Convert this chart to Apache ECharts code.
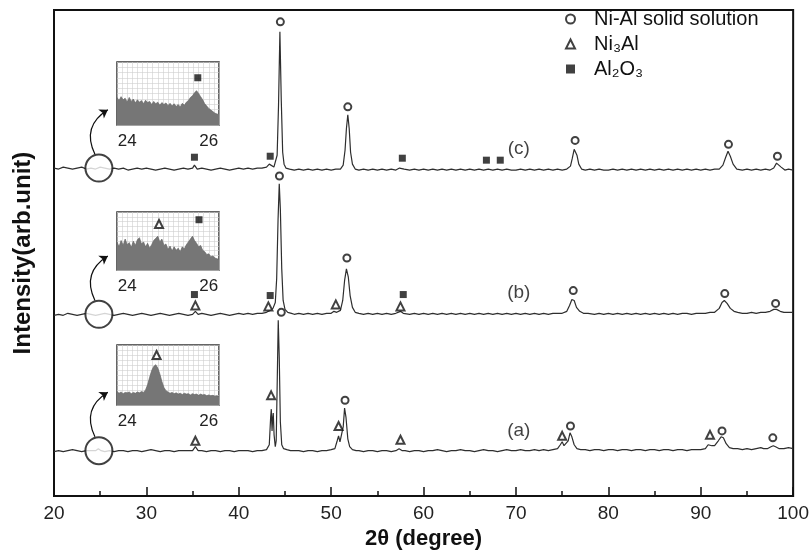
<!DOCTYPE html>
<html>
<head>
<meta charset="utf-8">
<script src="https://cdn.jsdelivr.net/npm/echarts@6/dist/echarts.min.js"></script>
<style>html,body{margin:0;padding:0;background:#fff}#c{width:812px;height:555px}</style>
</head>
<body>
<div id="c"></div>
<script>
// ---------- main XRD traces: [2theta, offset intensity] ----------
const traceC = [[20,332],[20.5,331],[21,333],[21.5,332],[22,331],[22.5,332],[23,333],[23.5,331],[24,332],[24.5,331],[25,333],[25.5,332],[26,331],[26.5,332],[27,331],[27.5,332],[28,330],[28.5,331],[29,332],[29.5,331],[30,332],[30.5,331],[31,330],[31.5,331],[32,332],[32.5,331],[33,330],[33.5,331],[34,332],[34.5,331],[35,332],[35.2,335],[35.5,331],[36,332],[36.5,331],[37,330],[37.5,331],[38,332],[38.5,331],[39,330],[39.5,331],[40,332],[40.5,331],[41,332],[41.5,331],[42,332],[42.5,332],[43,333],[43.3,336],[43.5,335],[43.8,333],[44.0,335],[44.15,345],[44.3,395],[44.45,470],[44.6,400],[44.75,348],[44.9,336],[45.1,332],[45.5,331],[46,330],[46.5,331],[47,330],[47.5,331],[48,330],[48.5,331],[49,330],[49.5,331],[50,330],[50.5,331],[51,331],[51.3,335],[51.5,350],[51.65,372],[51.8,386],[51.95,372],[52.1,348],[52.3,336],[52.6,331],[53,330],[53.5,331],[54,330],[54.5,331],[55,330],[55.5,331],[56,330],[56.5,331],[57,330],[57.4,332],[57.6,334],[57.9,331],[58.5,330],[59,331],[59.5,330],[60,331],[60.5,330],[61,331],[61.5,330],[62,331],[62.5,330],[63,331],[63.5,330],[64,331],[64.5,330],[65,331],[65.5,330],[66,331],[66.5,330],[67,331],[67.5,330],[68,331],[68.5,330],[69,331],[69.5,330],[70,330],[70.5,331],[71,330],[71.5,331],[72,330],[72.5,331],[73,330],[73.5,331],[74,330],[74.5,331],[75,330],[75.5,331],[75.9,334],[76.1,342],[76.3,351],[76.45,352],[76.6,345],[76.8,336],[77.1,331],[77.5,330],[78,331],[78.5,330],[79,331],[79.5,330],[80,330],[80.5,331],[81,330],[81.5,331],[82,330],[82.5,331],[83,330],[83.5,331],[84,330],[84.5,331],[85,330],[85.5,331],[86,330],[86.5,331],[87,330],[87.5,331],[88,330],[88.5,331],[89,330],[89.5,331],[90,330],[90.5,331],[91,330],[91.5,331],[92,331],[92.4,335],[92.7,343],[92.95,349],[93.2,344],[93.5,336],[93.9,331],[94.5,330],[95,331],[95.5,330],[96,331],[96.5,330],[97,331],[97.5,330],[97.9,332],[98.2,337],[98.4,338],[98.7,333],[99.1,330],[99.5,331],[100,330]];

const traceB = [[20,183],[20.5,184],[21,183],[21.5,185],[22,184],[22.5,183],[23,184],[23.5,185],[24,184],[24.5,183],[25,184],[25.5,185],[26,184],[26.5,183],[27,184],[27.5,185],[28,184],[28.5,183],[29,184],[29.5,185],[30,184],[30.5,183],[31,184],[31.5,185],[32,184],[32.5,183],[33,184],[33.5,185],[34,184],[34.5,183],[35,184],[35.3,187],[35.6,184],[36,185],[36.5,184],[37,183],[37.5,184],[38,185],[38.5,184],[39,183],[39.5,184],[40,185],[40.5,184],[41,185],[41.5,184],[42,185],[42.5,185],[43,186],[43.4,188],[43.7,190],[43.95,196],[44.1,220],[44.25,280],[44.38,316],[44.5,290],[44.65,230],[44.8,198],[45.0,189],[45.3,186],[45.7,185],[46,184],[46.5,185],[47,184],[47.5,185],[48,184],[48.5,185],[49,184],[49.5,185],[50,185],[50.3,187],[50.6,186],[51,188],[51.25,198],[51.45,218],[51.65,230],[51.85,222],[52.05,203],[52.3,191],[52.6,186],[53,185],[53.5,184],[54,185],[54.5,184],[55,185],[55.5,184],[56,185],[56.5,184],[57,185],[57.5,187],[57.8,185],[58.5,184],[59,185],[59.5,184],[60,185],[60.5,184],[61,185],[61.5,184],[62,185],[62.5,184],[63,185],[63.5,184],[64,185],[64.5,184],[65,185],[65.5,184],[66,185],[66.5,184],[67,185],[67.5,184],[68,185],[68.5,184],[69,185],[69.5,184],[70,185],[70.5,184],[71,185],[71.5,184],[72,185],[72.5,184],[73,185],[73.5,184],[74,185],[74.5,185],[75,185],[75.5,187],[75.8,193],[76.05,199],[76.3,198],[76.55,191],[76.9,187],[77.3,185],[77.8,185],[78.5,184],[79,185],[79.5,184],[80,185],[80.5,184],[81,185],[81.5,184],[82,185],[82.5,184],[83,185],[83.5,184],[84,185],[84.5,184],[85,185],[85.5,184],[86,185],[86.5,184],[87,185],[87.5,184],[88,185],[88.5,185],[89,184],[89.5,185],[90,185],[90.5,185],[91,186],[91.5,186],[92,190],[92.3,196],[92.55,198],[92.85,195],[93.2,190],[93.6,187],[94,186],[94.5,185],[95,185],[95.5,186],[96,185],[96.5,186],[97,186],[97.5,187],[97.9,189],[98.2,189],[98.6,187],[99,186],[99.5,186],[100,186]];

const traceA = [[20,45],[20.5,46],[21,45],[21.5,46],[22,47],[22.5,46],[23,45],[23.5,46],[24,46],[24.5,46],[24.8,48],[25.1,46],[25.5,45],[26,46],[26.5,45],[27,46],[27.5,46],[28,45],[28.5,46],[29,46],[29.5,45],[30,46],[30.5,47],[31,46],[31.5,45],[32,46],[32.5,46],[33,45],[33.5,46],[34,46],[34.5,46],[35,46],[35.3,50],[35.6,46],[36,46],[36.5,45],[37,46],[37.5,46],[38,45],[38.5,46],[39,46],[39.5,45],[40,46],[40.5,46],[41,46],[41.5,45],[42,46],[42.5,46],[43,47],[43.3,52],[43.45,80],[43.52,88],[43.6,66],[43.66,78],[43.73,84],[43.82,62],[43.95,50],[44.05,56],[44.15,110],[44.27,178],[44.38,140],[44.5,75],[44.65,52],[44.85,48],[45.2,47],[45.6,46],[46,46],[46.5,46],[47,45],[47.5,46],[48,46],[48.5,45],[49,46],[49.5,46],[50,47],[50.4,48],[50.65,56],[50.8,61],[50.95,55],[51.1,54],[51.3,70],[51.45,89],[51.6,80],[51.8,58],[52.0,50],[52.3,47],[52.7,46],[53,46],[53.5,45],[54,46],[54.5,46],[55,45],[55.5,46],[56,46],[56.5,45],[57,46],[57.35,48],[57.5,49],[57.7,46],[58,46],[58.5,45],[59,46],[59.5,46],[60,45],[60.5,46],[61,46],[61.5,47],[62,46],[62.5,45],[63,46],[63.5,46],[64,47],[64.5,46],[65,46],[65.5,45],[66,46],[66.5,47],[67,46],[67.5,46],[68,45],[68.5,46],[69,47],[69.5,46],[70,46],[70.5,47],[71,46],[71.5,46],[72,47],[72.5,46],[73,47],[73.5,46],[74,47],[74.5,48],[74.8,52],[75.0,55],[75.2,51],[75.4,50],[75.65,56],[75.85,64],[76.05,60],[76.3,52],[76.6,48],[77,47],[77.5,47],[78,46],[78.5,47],[79,47],[79.5,46],[80,47],[80.5,47],[81,46],[81.5,47],[82,47],[82.5,46],[83,47],[83.5,47],[84,46],[84.5,47],[85,47],[85.5,46],[86,47],[86.5,47],[87,46],[87.5,47],[88,47],[88.5,46],[89,47],[89.5,47],[90,47],[90.5,48],[90.8,52],[91.0,54],[91.2,51],[91.5,51],[91.9,56],[92.2,60],[92.45,59],[92.75,53],[93.1,49],[93.5,48],[94,48],[94.5,47],[95,48],[95.5,47],[96,48],[96.5,49],[96.8,48],[97.2,48],[97.6,50],[97.85,51],[98.1,50],[98.5,48],[99,48],[99.5,49],[100,48]];

// ---------- phase markers ----------
const phaseNames = ['Ni-Al solid solution', 'Ni₃Al', 'Al₂O₃'];
const niAlSolid = [[44.5,480],[51.8,394],[76.4,360],[93.0,356],[98.3,344],[44.4,324],[51.7,241],[76.2,208],[92.6,205],[98.1,195],[44.6,186],[51.5,97],[75.9,71],[92.3,66],[97.8,59]];
const ni3Al = [[35.3,193],[43.2,192],[50.5,194],[57.5,192],[35.3,56],[43.5,102],[50.8,71],[57.5,57],[75.0,61],[91.0,62]];
const al2o3 = [[35.2,343],[43.4,344],[57.7,342],[66.8,340],[68.3,340],[35.2,204],[43.4,203],[57.8,204]];

// ---------- trace labels, zoom circles, arrows ----------
const traceLabelText = ['(c)','(b)','(a)'];
const traceLabelPos = [[70.3,352],[70.3,206],[70.3,66]];
const zoomCircles = [[24.86,332],[24.86,184],[24.86,46]];
const arrowPaths = [[[24.43,346],[25.83,391]],[[24.43,198],[25.83,243]],[[24.43,60],[25.83,105]]];

// ---------- insets (2theta 23.75 - 26.25) ----------
const insetTheta = [23.75,23.8,23.85,23.9,23.95,24.0,24.05,24.1,24.15,24.2,24.25,24.3,24.35,24.4,24.45,24.5,24.55,24.6,24.65,24.7,24.75,24.8,24.85,24.9,24.95,25.0,25.05,25.1,25.15,25.2,25.25,25.3,25.35,25.4,25.45,25.5,25.55,25.6,25.65,25.7,25.75,25.8,25.85,25.9,25.95,26.0,26.05,26.1,26.15,26.2,26.25];
const insetC = [70,62,72,64,68,58,70,60,66,56,64,58,62,54,63,57,60,52,60,54,58,50,57,52,56,49,55,48,54,47,52,46,55,50,58,62,70,74,82,87,80,72,64,54,48,42,38,34,30,28,26];
const insetB = [80,66,84,70,88,72,78,64,82,70,86,92,74,80,66,76,62,72,84,90,96,80,88,70,74,58,68,54,66,56,62,52,66,60,72,80,88,96,84,76,66,70,56,52,44,46,38,40,34,32,30];
const insetA = [32,28,31,27,30,29,31,27,30,28,31,29,32,30,36,48,66,82,92,96,88,74,56,42,34,31,28,30,27,29,26,28,25,28,26,27,24,27,25,26,23,26,24,25,22,24,22,23,21,22,20];
const insetTickLabels = [24, 26];
const insetCMarkSquare = [[25.73,120]];
const insetBMarkTriangle = [[24.78,131]];
const insetBMarkSquare = [[25.76,143]];
const insetAMarkTriangle = [[24.72,119]];

const FONT = "'Liberation Sans', Arial, sans-serif";
const INK = '#111';

function pairs(xs, ys){ return xs.map((x,i)=>[x, ys[i]]); }

const chart = echarts.init(document.getElementById('c'), null, {renderer:'canvas'});

const insetGrids = [
  {left:117, top:62, width:102, height:63},
  {left:117, top:212, width:102, height:58},
  {left:117, top:345, width:102, height:60}
];
const insetYMax = [160, 165, 143];

const xAxes = [{
  gridIndex:0, type:'value', min:20, max:100, interval:10,
  axisLine:{show:true, lineStyle:{color:INK, width:2}},
  axisTick:{show:true, inside:true, length:9, lineStyle:{color:INK, width:1.5}},
  minorTick:{show:true, splitNumber:2, length:5, lineStyle:{color:INK, width:1.5}},
  axisLabel:{fontSize:19, color:'#222', margin:8, fontFamily:FONT},
  splitLine:{show:false},
  name:'2θ (degree)', nameLocation:'middle', nameGap:29,
  nameTextStyle:{fontSize:22, fontWeight:'bold', color:INK, fontFamily:FONT}
}];
const yAxes = [{
  gridIndex:0, type:'value', min:0, max:492,
  axisLine:{show:false}, axisTick:{show:false}, axisLabel:{show:false}, splitLine:{show:false},
  name:'Intensity(arb.unit)', nameLocation:'middle', nameGap:19,
  nameTextStyle:{fontSize:24, fontWeight:'bold', color:INK, fontFamily:FONT}
}];
for (let i=0;i<3;i++){
  xAxes.push({
    gridIndex:i+1, type:'value', min:23.75, max:26.25, interval:0.125,
    axisLine:{show:false}, axisTick:{show:false},
    axisLabel:{show:true, fontSize:17, color:'#222', margin:8, fontFamily:FONT,
      formatter:(v)=>{ const m = insetTickLabels.find(t=>Math.abs(t-v)<1e-6); return m===undefined?'':String(m); }},
    splitLine:{show:true, lineStyle:{color:'#cfcfcf', width:0.6}}
  });
  yAxes.push({
    gridIndex:i+1, type:'value', min:0, max:insetYMax[i], interval:insetYMax[i]/12,
    axisLine:{show:false}, axisTick:{show:false}, axisLabel:{show:false},
    splitLine:{show:true, lineStyle:{color:'#cfcfcf', width:0.6}}
  });
}

const mainLine = (name, data)=>({
  name, type:'line', xAxisIndex:0, yAxisIndex:0, data, showSymbol:false, symbol:'none',
  lineStyle:{color:'#2e2e2e', width:1.2}, silent:true, z:3
});
const insetArea = (idx, ys)=>({
  type:'line', xAxisIndex:idx, yAxisIndex:idx, data:pairs(insetTheta, ys), symbol:'none', showSymbol:false,
  lineStyle:{color:'#666', width:0.7}, areaStyle:{color:'#767676', opacity:1, origin:'start'}, silent:true, z:3
});
const markerStyle = {
  circle:{symbol:'emptyCircle', symbolSize:7, itemStyle:{color:INK, borderWidth:1.2}},
  tri:{symbol:'emptyTriangle', symbolSize:8, itemStyle:{color:INK, borderWidth:1.2}},
  sq:{symbol:'rect', symbolSize:7, itemStyle:{color:INK}}
};
const mk = (name, idx, data, st)=>Object.assign({name, type:'scatter', xAxisIndex:idx, yAxisIndex:idx, data, z:5, silent:true, clip:false}, st);

const series = [
  mainLine('a', traceA), mainLine('b', traceB), mainLine('c', traceC),
  mk(phaseNames[0], 0, niAlSolid, markerStyle.circle),
  mk(phaseNames[1], 0, ni3Al, markerStyle.tri),
  mk(phaseNames[2], 0, al2o3, markerStyle.sq),
  {type:'scatter', name:'zoom', xAxisIndex:0, yAxisIndex:0, data:zoomCircles, symbol:'emptyCircle', symbolSize:27,
   itemStyle:{color:INK, borderWidth:1.3}, z:6, silent:true},
  {type:'lines', coordinateSystem:'cartesian2d', xAxisIndex:0, yAxisIndex:0, silent:true, z:6,
   data:arrowPaths.map(c=>({coords:c})), symbol:['none','arrow'], symbolSize:8,
   lineStyle:{color:INK, width:1.2, curveness:0.45, opacity:1}},
  {type:'scatter', name:'labels', xAxisIndex:0, yAxisIndex:0, symbolSize:0, silent:true, z:6,
   data:traceLabelText.map((t,i)=>({name:t, value:traceLabelPos[i]})),
   label:{show:true, position:'inside', formatter:(p)=>p.name, fontSize:19, color:INK, fontFamily:FONT}},
  insetArea(1, insetC), insetArea(2, insetB), insetArea(3, insetA),
  mk(phaseNames[2], 1, insetCMarkSquare, markerStyle.sq),
  mk(phaseNames[1], 2, insetBMarkTriangle, markerStyle.tri),
  mk(phaseNames[2], 2, insetBMarkSquare, markerStyle.sq),
  mk(phaseNames[1], 3, insetAMarkTriangle, markerStyle.tri)
];

const option = {
  animation:false,
  backgroundColor:'#fff',
  textStyle:{fontFamily:FONT},
  grid:[
    {left:54, right:17, top:10, bottom:53, show:true, borderColor:INK, borderWidth:2}
  ].concat(insetGrids.map(g=>Object.assign({show:true, borderColor:'#333', borderWidth:1.5}, g))),
  xAxis:xAxes, yAxis:yAxes,
  legend:{
    orient:'vertical', left:560, top:2, itemWidth:9, itemHeight:9, itemGap:1,
    selectedMode:false,
    data:[
      {name:phaseNames[0], icon:'emptyCircle'},
      {name:phaseNames[1], icon:'emptyTriangle'},
      {name:phaseNames[2], icon:'rect'}
    ],
    textStyle:{fontSize:20, color:INK, fontFamily:FONT, lineHeight:24, padding:[0,0,0,14]}
  },
  series
};
chart.setOption(option);
</script>
</body>
</html>
